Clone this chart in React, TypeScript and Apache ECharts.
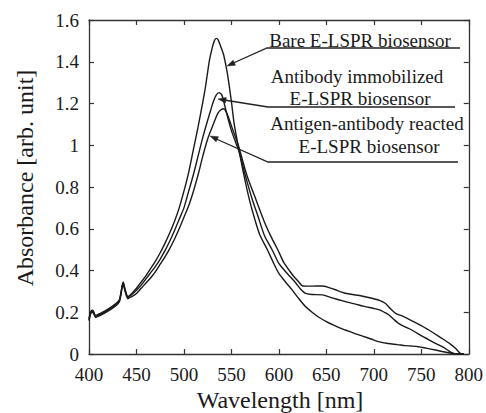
import React, { useEffect, useRef } from "react";
import * as echarts from "echarts";

// ---- Data ----
const bareWl = [400, 402, 404, 407, 412, 420, 428, 432, 435, 436, 438, 441, 445, 450, 455, 460, 465, 470, 475, 480, 485, 490, 495, 500, 505, 510, 515, 520, 522, 524, 527, 530, 532, 534, 536, 539, 542, 546, 550, 553, 558, 563, 569, 575, 580, 588, 595, 600, 607, 614, 621, 628, 635, 642, 650, 657, 664, 670, 680, 688, 697, 705, 715, 725, 733, 740, 747, 755, 765, 772, 780, 786, 795];
const bareAbs = [0.17, 0.205, 0.21, 0.185, 0.195, 0.215, 0.24, 0.26, 0.33, 0.345, 0.31, 0.275, 0.29, 0.315, 0.345, 0.375, 0.41, 0.445, 0.485, 0.53, 0.58, 0.635, 0.7, 0.78, 0.87, 0.98, 1.09, 1.21, 1.26, 1.32, 1.41, 1.47, 1.5, 1.512, 1.505, 1.47, 1.43, 1.337, 1.209, 1.1, 0.977, 0.86, 0.738, 0.64, 0.57, 0.498, 0.43, 0.386, 0.345, 0.307, 0.265, 0.227, 0.2, 0.176, 0.155, 0.139, 0.125, 0.115, 0.098, 0.086, 0.072, 0.059, 0.05, 0.045, 0.04, 0.038, 0.035, 0.028, 0.019, 0.012, 0.005, 0.0, 0.0];

const antibodyWl = [400, 402, 404, 407, 412, 420, 428, 432, 435, 436, 438, 441, 445, 450, 455, 460, 465, 470, 475, 480, 485, 490, 495, 500, 505, 510, 515, 520, 525, 528, 531, 534, 537, 540, 543, 546, 550, 554, 558, 565, 572, 578, 585, 593, 600, 606, 612, 618, 623, 628, 635, 646, 655, 663, 670, 680, 690, 700, 706, 711, 716, 721, 726, 733, 740, 750, 758, 765, 772, 778, 782, 788, 795];
const antibodyAbs = [0.165, 0.2, 0.205, 0.18, 0.19, 0.21, 0.235, 0.255, 0.325, 0.34, 0.305, 0.27, 0.285, 0.305, 0.33, 0.36, 0.39, 0.42, 0.455, 0.495, 0.54, 0.59, 0.645, 0.7, 0.78, 0.86, 0.95, 1.04, 1.12, 1.165, 1.21, 1.24, 1.252, 1.24, 1.19, 1.135, 1.07, 1.02, 0.97, 0.85, 0.74, 0.66, 0.565, 0.498, 0.434, 0.4, 0.37, 0.339, 0.31, 0.29, 0.285, 0.283, 0.27, 0.26, 0.251, 0.24, 0.228, 0.218, 0.211, 0.2, 0.187, 0.166, 0.147, 0.13, 0.115, 0.088, 0.068, 0.051, 0.035, 0.018, 0.006, 0.0, 0.0];

const antigenWl = [400, 402, 404, 407, 412, 420, 428, 432, 435, 436, 438, 441, 445, 450, 455, 460, 465, 470, 475, 480, 485, 490, 495, 500, 505, 510, 515, 520, 525, 530, 533, 536, 539, 542, 545, 548, 551, 555, 558, 566, 576, 585, 592, 599, 605, 611, 616, 621, 625, 635, 646, 658, 670, 685, 698, 706, 712, 718, 723, 733, 745, 758, 770, 780, 786, 791, 795];
const antigenAbs = [0.16, 0.195, 0.2, 0.175, 0.185, 0.205, 0.23, 0.25, 0.32, 0.335, 0.3, 0.265, 0.275, 0.29, 0.315, 0.34, 0.365, 0.395, 0.43, 0.465, 0.505, 0.55, 0.6, 0.655, 0.71, 0.78, 0.86, 0.95, 1.03, 1.09, 1.125, 1.155, 1.17, 1.175, 1.155, 1.12, 1.08, 1.03, 0.99, 0.86, 0.738, 0.63, 0.56, 0.498, 0.44, 0.4, 0.37, 0.345, 0.326, 0.325, 0.326, 0.31, 0.291, 0.28, 0.267, 0.257, 0.243, 0.215, 0.195, 0.176, 0.148, 0.115, 0.08, 0.05, 0.027, 0.003, 0.0];

const xTicks = { min: 400, max: 800, step: 50 };
const yTicks = { min: 0, max: 1.6, step: 0.2 };

const annotationLines = [
  ["Bare E-LSPR biosensor"],
  ["Antibody immobilized", "E-LSPR biosensor"],
  ["Antigen-antibody reacted", "E-LSPR biosensor"],
];

const FONT = "Times New Roman, Liberation Serif, DejaVu Serif, serif";
const INK = "#1a1a1a";

function pairs(xs: number[], ys: number[]) {
  return xs.map((x, i) => [x, ys[i]]);
}

function arrowHead(fx: number, fy: number, tx: number, ty: number, len = 8, half = 2.8) {
  const dx = tx - fx;
  const dy = ty - fy;
  const d = Math.hypot(dx, dy);
  const ux = dx / d;
  const uy = dy / d;
  const bx = tx - ux * len;
  const by = ty - uy * len;
  return [
    [tx, ty],
    [bx - uy * half, by + ux * half],
    [bx + uy * half, by - ux * half],
  ];
}

export default function App() {
  const ref = useRef<HTMLDivElement>(null);

  useEffect(() => {
    if (!ref.current) return;
    const chart = echarts.init(ref.current, undefined, { renderer: "svg" });

    const axisCommon = {
      type: "value" as const,
      axisLine: { show: true, onZero: false, lineStyle: { color: "#333", width: 1.3 } },
      axisTick: { show: true, inside: true, length: 5, lineStyle: { color: "#333", width: 1.2 } },
      splitLine: { show: false },
    };

    const textStyle = { fontFamily: FONT, fontSize: 19, fill: INK };

    const graphic: any[] = [
      {
        type: "text",
        x: 25,
        y: 178,
        rotation: Math.PI / 2,
        style: { text: "Absorbance [arb. unit]", fontFamily: FONT, fontSize: 24, fill: INK, align: "center", verticalAlign: "middle" },
      },
      {
        type: "text",
        x: 280,
        y: 400,
        style: { text: "Wavelength [nm]", fontFamily: FONT, fontSize: 24, fill: INK, align: "center", verticalAlign: "middle" },
      },
      { type: "text", x: 360, y: 40, style: { ...textStyle, text: annotationLines[0][0], align: "center", verticalAlign: "middle" } },
      { type: "text", x: 357, y: 76, style: { ...textStyle, text: annotationLines[1][0], align: "center", verticalAlign: "middle" } },
      { type: "text", x: 360, y: 98, style: { ...textStyle, text: annotationLines[1][1], align: "center", verticalAlign: "middle" } },
      { type: "text", x: 367, y: 123, style: { ...textStyle, text: annotationLines[2][0], align: "center", verticalAlign: "middle" } },
      { type: "text", x: 369, y: 146, style: { ...textStyle, text: annotationLines[2][1], align: "center", verticalAlign: "middle" } },
    ];

    const leaders = [
      { pts: [[460, 48], [267, 48], [229, 65]], tip: [227, 66] },
      { pts: [[455, 107], [268, 107], [221, 99.5]], tip: [218, 99] },
      { pts: [[458, 162], [268, 162], [213, 137.5]], tip: [210, 136] },
    ];
    leaders.forEach((l) => {
      graphic.push({
        type: "polyline",
        shape: { points: l.pts },
        style: { stroke: "#222", lineWidth: 1.3, fill: null },
      });
      const from = l.pts[l.pts.length - 2];
      graphic.push({
        type: "polygon",
        shape: { points: arrowHead(from[0], from[1], l.tip[0], l.tip[1]) },
        style: { fill: "#222", stroke: "#222", lineWidth: 0.5 },
      });
    });

    const lineSeries = (name: string, xs: number[], ys: number[]) => ({
      name,
      type: "line" as const,
      data: pairs(xs, ys),
      showSymbol: false,
      symbol: "none",
      smooth: 0.25,
      lineStyle: { color: INK, width: 1.4 },
      xAxisIndex: 0,
      yAxisIndex: 0,
    });

    chart.setOption({
      animation: false,
      backgroundColor: "#ffffff",
      textStyle: { fontFamily: FONT },
      grid: { left: 89, right: 16, top: 20, bottom: 59 },
      xAxis: [
        {
          ...axisCommon,
          position: "bottom",
          min: xTicks.min,
          max: xTicks.max,
          interval: xTicks.step,
          axisLabel: { fontFamily: FONT, fontSize: 19, color: INK, margin: 11 },
        },
        {
          ...axisCommon,
          position: "top",
          min: xTicks.min,
          max: xTicks.max,
          interval: xTicks.step,
          axisLabel: { show: false },
        },
      ],
      yAxis: [
        {
          ...axisCommon,
          position: "left",
          min: yTicks.min,
          max: yTicks.max,
          interval: yTicks.step,
          axisLabel: { fontFamily: FONT, fontSize: 19, color: INK, margin: 10 },
        },
        {
          ...axisCommon,
          position: "right",
          min: yTicks.min,
          max: yTicks.max,
          interval: yTicks.step,
          axisLabel: { show: false },
        },
      ],
      series: [
        lineSeries("Bare E-LSPR biosensor", bareWl, bareAbs),
        lineSeries("Antibody immobilized E-LSPR biosensor", antibodyWl, antibodyAbs),
        lineSeries("Antigen-antibody reacted E-LSPR biosensor", antigenWl, antigenAbs),
      ],
      graphic,
    });

    return () => {
      chart.dispose();
    };
  }, []);

  return (
    <div
      ref={ref}
      style={{ position: "fixed", left: 0, top: 0, width: 486, height: 413, background: "#fff" }}
    />
  );
}
